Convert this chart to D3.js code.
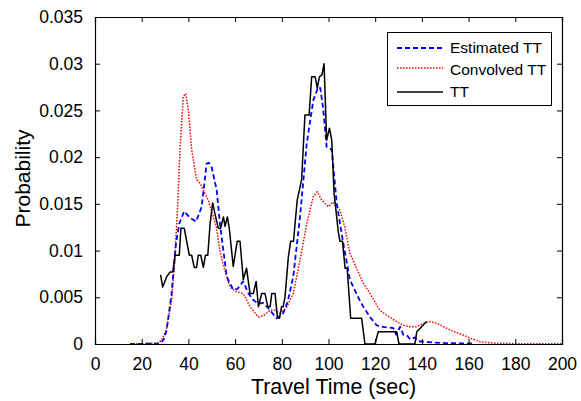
<!DOCTYPE html>
<html><head><meta charset="utf-8">
<script src="https://cdn.jsdelivr.net/npm/d3@7"></script>
<style>body{margin:0;background:#fff}svg{display:block}text{font-family:"Liberation Sans",Arial,sans-serif;fill:#000}</style>
</head><body>
<script>
// ---- data (x = travel time in sec, y = probability in units of 1e-3) ----
const xTicks = [0,20,40,60,80,100,120,140,160,180,200];
const yTicks = [0,0.005,0.01,0.015,0.02,0.025,0.03,0.035];
const yTickLabels = ["0","0.005","0.01","0.015","0.02","0.025","0.03","0.035"];
const seriesNames = ["Estimated TT","Convolved TT","TT"];

const estimatedTT = [[15,0],[27.8,0.05],[29.5,0.5],[30.7,1.5],[32.8,5.4],[34.7,10.8],[36.1,12.9],[38.2,14.2],[40.7,13.5],[43.3,13.1],[45.7,14.7],[47.8,19.3],[48.8,19.4],[49.9,19.0],[52.1,16.5],[53.5,12.9],[56.4,7.2],[59.2,5.8],[61,5.9],[63.5,6.7],[65.5,5.5],[67.8,4.7],[70,4.3],[72.1,4.4],[75,3.6],[77.8,2.75],[80.6,3.3],[82.5,4.5],[84.9,7.2],[87.8,13.6],[90.7,21.5],[93.5,26.1],[95.6,27.5],[96.5,27.4],[97.8,25],[99.2,21.1],[101.4,20.8],[103.5,15.1],[106.3,10.8],[109.2,6.85],[113.5,4.6],[114.9,4.0],[117.8,2.9],[120.6,2.0],[124,1.8],[127.8,1.7],[129,1.0],[130.7,1.85],[132,1.0],[133.5,0.96],[135,0.5],[137,0.7],[138.5,0.3],[140.6,0.25],[145,0.15],[150,0.1],[155,0.08],[162.7,0.05]];

const convolvedTT = [[15,0],[27,0.1],[28.5,0.4],[30.5,1.5],[32.8,4.7],[34,8.5],[35.3,14.3],[36.4,20.8],[37.8,26.5],[38.8,26.8],[40,25],[41.4,20.8],[43.5,17.6],[45,17.2],[46.4,16.5],[48.5,15.4],[50,14.2],[52,12.5],[53.5,10],[55,8.4],[57.8,6.1],[60.5,5.6],[63.5,5.4],[66.4,4.0],[69.9,2.9],[72,3.0],[74.9,3.6],[77,3.6],[79.2,3.3],[82,3.9],[84.9,5.4],[87.8,9.0],[90.7,12.9],[93.5,15.8],[95.2,16.3],[97.1,15.4],[99.9,14.7],[102,15.2],[104.9,14.3],[107,12.5],[109.2,9.7],[114.9,6.5],[117.8,5.4],[122,3.6],[126,2.9],[129.2,2.4],[132,2.0],[134.9,1.85],[137.8,1.85],[140.5,2.2],[143.5,2.4],[146.5,2.2],[149.2,1.85],[153,1.4],[157.7,0.96],[161,0.6],[164.9,0.25],[170,0.1],[180,0.03],[200,0.02]];

const observedTT = [[28.1,7.4],[29,6.1],[30.7,7.2],[32.1,7.7],[33.3,7.7],[34.3,9.5],[36.1,9.5],[36.8,12.4],[38.2,12.4],[40.4,9.5],[41.4,9.5],[42.5,8.2],[43.5,8.2],[44.2,9.5],[45.3,9.5],[46.4,8.2],[47.3,9.5],[48.3,9.5],[49.3,12.9],[50.4,15.1],[51.5,13.8],[52.8,12.4],[53.8,12.4],[55,13.6],[55.7,12.6],[56.7,13.6],[57.5,12.4],[59.2,8.3],[60.9,11],[62.1,11],[63.5,6.9],[64.9,8.1],[66.4,5.4],[67.8,5.4],[69,6.7],[70,4],[71.4,5.4],[72.8,5.4],[74,4],[75,4],[75.7,5.4],[77.1,5.4],[78.1,2.9],[79,2.75],[79.9,4],[80.6,4],[81.4,5.1],[82.8,9.3],[83.8,11],[85,11],[86.6,15.4],[88.5,17.6],[89.9,24.5],[91.7,24.5],[92.8,28.6],[94.3,28.6],[95.2,27.4],[96.1,28.6],[97.2,28.8],[98.1,30],[99.2,21.8],[100.4,23.1],[101.4,21.8],[102.4,16.1],[104.2,12],[104.9,11],[106,11],[107.1,8.1],[108,8.1],[109.5,2.75],[114.2,2.75],[115.6,0],[119.9,0],[121.3,1.3],[129.2,1.3],[130.2,0],[137,0],[137.8,1.3],[142,2.4]];

// ---- layout ----
const W = 581, H = 401;
const m = {left:95, right:19, top:17, bottom:57};
const iw = W - m.left - m.right, ih = H - m.top - m.bottom;

const svg = d3.select("body").append("svg").attr("width",W).attr("height",H);
const g = svg.append("g").attr("transform",`translate(${m.left},${m.top})`);

const x = d3.scaleLinear().domain([0,200]).range([0,iw]);
const y = d3.scaleLinear().domain([0,0.035]).range([ih,0]);

svg.append("defs").append("clipPath").attr("id","clip").append("rect").attr("width",iw).attr("height",ih+1);

const line = d3.line().x(d=>x(d[0])).y(d=>y(d[1]/1000));
const plot = g.append("g").attr("clip-path","url(#clip)");

const styles = [
  {data:convolvedTT, color:"#ff0000", width:1.5, dash:"1.5,1.5"},
  {data:estimatedTT, color:"#0000ff", width:1.8, dash:"5,3"},
  {data:observedTT, color:"#000000", width:1.5, dash:null}
];
styles.forEach(s=>{
  plot.append("path").datum(s.data).attr("d",line)
    .attr("fill","none").attr("stroke",s.color).attr("stroke-width",s.width)
    .attr("stroke-dasharray",s.dash).attr("stroke-linejoin","round");
});

// axes (MATLAB-like box with inward ticks)
const tl = 5;
const xb = g.append("g").attr("transform",`translate(0,${ih})`)
  .call(d3.axisBottom(x).tickValues(xTicks).tickSize(-tl).tickPadding(tl+9).tickFormat(d3.format("d")));
const xt = g.append("g").call(d3.axisTop(x).tickValues(xTicks).tickSize(-tl).tickFormat(""));
const yl = g.append("g").call(d3.axisLeft(y).tickValues(yTicks).tickSize(-tl).tickPadding(tl+7).tickFormat((d,i)=>yTickLabels[i]));
const yr = g.append("g").attr("transform",`translate(${iw},0)`).call(d3.axisRight(y).tickValues(yTicks).tickSize(-tl).tickFormat(""));
[xb,xt,yl,yr].forEach(a=>{
  a.select(".domain").attr("stroke","#000").attr("stroke-width",1.2);
  a.selectAll(".tick line").attr("stroke","#000").attr("stroke-width",1);
  a.selectAll("text").style("font-size","17.5px").attr("fill","#000");
});

// axis labels
svg.append("text").attr("x",m.left+iw/2+5).attr("y",394).attr("text-anchor","middle")
  .style("font-size","21.5px").text("Travel Time (sec)");
svg.append("text").attr("transform",`translate(30,${m.top+ih/2-2}) rotate(-90)`).attr("text-anchor","middle")
  .style("font-size","21px").text("Probability");

// legend
const lg = svg.append("g");
lg.append("rect").attr("x",387.5).attr("y",32.5).attr("width",164).attr("height",73)
  .attr("fill","#fff").attr("stroke","#000").attr("stroke-width",1);
const legStyles = [styles[1],styles[0],styles[2]];
const rowY = [48,70,92];
seriesNames.forEach((n,i)=>{
  const s = legStyles[i];
  lg.append("line").attr("x1",397).attr("x2",443).attr("y1",rowY[i]-(i===1?2:0)).attr("y2",rowY[i]-(i===1?2:0))
    .attr("stroke",s.color).attr("stroke-width",s.width).attr("stroke-dasharray",s.dash);
  lg.append("text").attr("x",450).attr("y",rowY[i]).attr("dy","0.35em")
    .style("font-size","15.5px").text(n);
});
</script>
</body></html>
